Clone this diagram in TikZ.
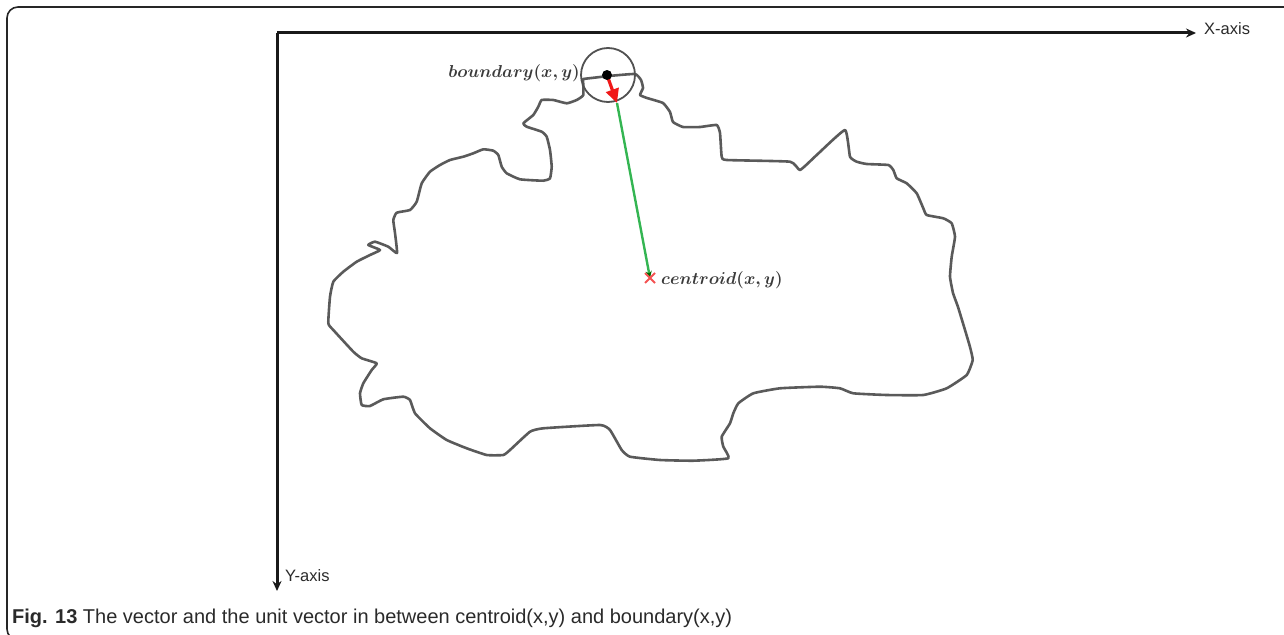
\documentclass[tikz,border=0pt]{standalone}
\usepackage{fontspec}
\newfontfamily\capfont{Liberation Sans}
\usetikzlibrary{arrows.meta}
\definecolor{outline}{HTML}{5A5A5A}
\definecolor{txt}{HTML}{2A2A2A}
\definecolor{mathtxt}{HTML}{3A3A3A}
\definecolor{vecgreen}{HTML}{34B552}
\definecolor{vecred}{HTML}{F01818}
\tikzset{
  frame/.style={draw=black!85, line width=1.6pt, rounded corners=11pt},
  axis/.style={draw=black!90, line width=3pt, -{Stealth[length=10pt,width=9pt]}},
  axislabel/.style={font=\capfont\fontsize{16.5}{19}\selectfont, text=txt, inner sep=0pt},
  mathlabel/.style={font=\fontsize{18}{22}\selectfont\boldmath, text=mathtxt, inner sep=0pt},
  contour/.style={draw=outline, line width=2.6pt, line join=round, line cap=round},
  probe/.style={draw=outline!90!black, line width=1.8pt},
  unitvec/.style={draw=vecred, line width=3.2pt, -{Triangle[length=14pt,width=13pt]}},
  fullvec/.style={draw=vecgreen, line width=2.4pt, -{Stealth[length=7pt,width=6pt,color=green!40!black]}},
  crossmark/.style={draw=vecred!75, line width=1.8pt},
}
\begin{document}
\begin{tikzpicture}[x=1pt, y=-1pt]
\useasboundingbox (0,0) rectangle (1284,634);
\clip (0,0) rectangle (1284,634);

% outer figure frame (runs off the right and bottom edges)
\draw[frame] (7,7) rectangle (1320,640);

% coordinate axes
\coordinate (origin) at (277,33);
\coordinate (xend) at (1196,33);
\coordinate (yend) at (277,591);
\draw[axis] (origin) -- (xend);
\draw[axis] (origin) -- (yend);
\node[axislabel, anchor=west] (xlab) at (1204,29) {X-axis};
\node[axislabel, anchor=west] (ylab) at (285,576) {Y-axis};

% object boundary
\draw[contour] plot[smooth, tension=0.25] coordinates {
 (583,79) (609,76) (635,74) (641,80) (643,88) (640,95) (647,98) (663,103)
 (670,112) (673,122) (683,127) (700,127) (716.7,125) (720,133) (721.7,156.7)
 (726.7,160) (790,161.7) (800,170) (816.7,155) (845,130) (850,156.7)
 (856.7,161.7) (866.7,164) (888.3,165) (893.3,170) (896.7,178.3) (906.7,183.3)
 (916.7,193.3) (923.3,208.3) (926.7,215) (943.3,218.3) (951.7,223.3)
 (955,236.7) (951.7,256.7) (950,276.7) (953,293) (958,307) (965,330)
 (970,347) (972.7,360) (966.7,375) (946.7,388.3) (923.3,395) (886.7,395)
 (853.3,393.3) (840,388.3) (820,386.7) (780,388.3) (753.3,393.3)
 (738.3,403.3) (733.3,413.3) (730,423.3) (721.7,436.7) (723.3,446.7)
 (728.3,458.3) (693.3,460.7) (660,460) (630,456.7) (621.7,450) (610,430)
 (600,425) (543.3,428.3) (530,431.7) (510,450) (503.3,455) (486.7,455)
 (466.7,448.3) (446.7,440) (430,428.3) (415,413.3) (410,400) (403.3,396.7)
 (383.3,399.3) (370,406) (361.7,405) (360,393.3) (363.3,383.3) (371.7,370)
 (376.7,363.3) (361.7,358.3) (353.3,351.7) (333.3,330) (328.3,323.3)
 (330,296.7) (333.3,281.7) (343.3,271.7) (356.7,261.7) (370,255) (380,250)
 (368.3,245) (375,241.7) (388.3,246.7) (397,253) (395,233) (393.3,220)
 (396.7,212.7) (410,210) (416.7,201.7) (421.7,183.3) (430,171.7) (440,165)
 (450,160) (463.3,156.7) (473.3,153.3) (483.3,149.3) (493.3,150.7)
 (498.3,155) (501.7,166.7) (506.7,173.3) (520,179.3) (543.3,180.7)
 (550,178.3) (551.7,166.7) (550,150) (546.7,136.7) (541.7,131.7)
 (526.7,126.7) (523.3,123.3) (533.3,115) (538.3,106.7) (541.7,100)
 (553.3,100) (566.7,103.3) (576.7,100) (583.3,95) (583,79)
};

% neighbourhood circle around the boundary point
\coordinate (bpt) at (607,75);
\draw[probe] (bpt) ++(1,0) circle[radius=27pt];

% points and vectors
\coordinate (utip) at (617,103);
\coordinate (cent) at (650,278);
\draw[fullvec] (utip) -- (cent);
\draw[unitvec] (bpt) -- (utip);
\fill[black] (bpt) circle[radius=5pt];
\draw[crossmark] (cent) ++(-5,-5) -- ++(10,10)
      (cent) ++(-5,5) -- ++(10,-10);

% labels
\node[mathlabel, anchor=east] (blab) at (580,73) {$boundary(x,y)$};
\node[mathlabel, anchor=west] (clab) at (661,280) {$centroid(x,y)$};

% caption
\node[anchor=west, inner sep=0pt, text=txt,
      font=\capfont\fontsize{20}{24}\selectfont] (cap) at (12,618)
  {\textbf{Fig. 13} The vector and the unit vector in between centroid(x,y) and boundary(x,y)};
\end{tikzpicture}
\end{document}
